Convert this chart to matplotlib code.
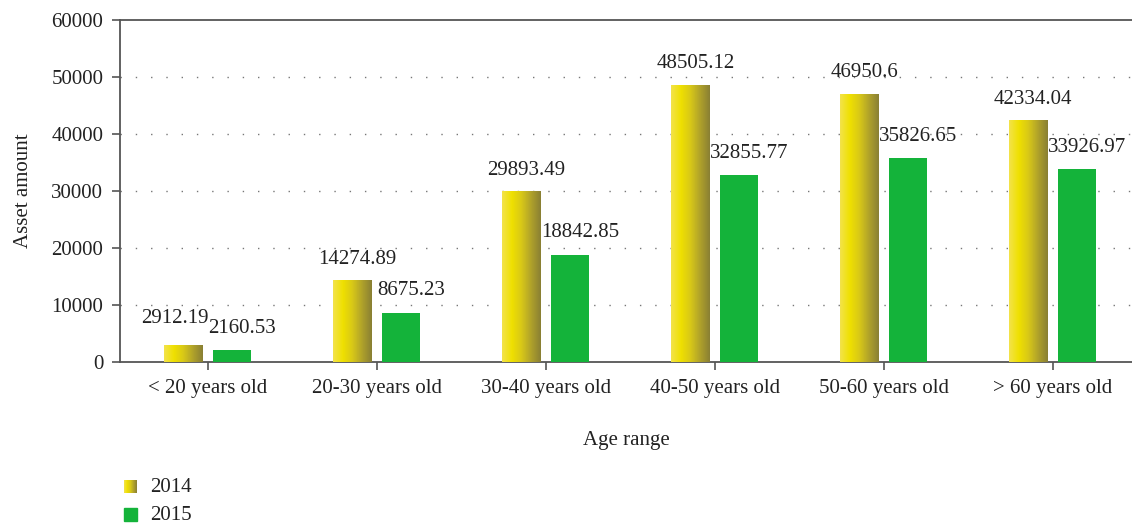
import matplotlib
matplotlib.use("Agg")
import matplotlib.pyplot as plt
import numpy as np
from matplotlib.colors import LinearSegmentedColormap
from matplotlib.patches import Rectangle

categories = ["< 20 years old", "20-30 years old", "30-40 years old",
              "40-50 years old", "50-60 years old", "> 60 years old"]
values_2014 = [2912.19, 14274.89, 29893.49, 48505.12, 46950.6, 42334.04]
values_2015 = [2160.53, 8675.23, 18842.85, 32855.77, 35826.65, 33926.97]
labels_2014 = ["2912.19", "14274.89", "29893.49", "48505.12", "46950.6", "42334.04"]
labels_2015 = ["2160.53", "8675.23", "18842.85", "32855.77", "35826.65", "33926.97"]
yticks = [0, 10000, 20000, 30000, 40000, 50000, 60000]

FONT = ["Liberation Serif", "DejaVu Serif"]
plt.rcParams['font.family'] = FONT
FS = 15

fig = plt.figure(figsize=(11.32, 5.25), dpi=100)
ax = fig.add_axes([120/1132, 1 - 362/525, 1 - 120/1132, (362 - 20)/525])

green = "#14b33a"
ygrad = LinearSegmentedColormap.from_list(
    "yg", ["#f3e34a", "#efe000", "#d8c818", "#b0a22a", "#8a8034"])
grad = np.linspace(0, 1, 64).reshape(1, -1)

x = np.arange(len(categories))
w = 0.225
off = 0.145

for i in range(len(categories)):
    x0 = x[i] - off - w/2
    ax.imshow(grad, cmap=ygrad, extent=[x0, x0 + w, 0, values_2014[i]],
              aspect='auto', zorder=3, interpolation='bilinear')
    dx, dy = (0.03, 3000)
    if i == 0:
        dx, dy = (-0.05, 4000)  # nudge to avoid overlapping neighbour label
    ax.text(x[i] - off + dx, values_2014[i] + dy, labels_2014[i],
            ha='center', va='baseline', fontsize=FS, color='#222222', zorder=5)
ax.bar(x + off, values_2015, width=w, color=green, zorder=3)
for i in range(len(categories)):
    ax.text(x[i] + off + 0.06, values_2015[i] + 3000, labels_2015[i],
            ha='center', va='baseline', fontsize=FS, color='#222222', zorder=5)

ax.set_xlim(-0.52, 5.47)
ax.set_ylim(0, 60000)
ax.set_yticks(yticks)
ax.set_yticklabels([str(v) for v in yticks])
ax.set_xticks(x)
ax.set_xticklabels(categories)
for yv in yticks[1:-1]:
    ax.axhline(yv, color='#777777', linestyle=(0, (1, 10)), linewidth=1.0, zorder=1)

ax.spines['right'].set_visible(False)
for s in ['left', 'bottom', 'top']:
    ax.spines[s].set_color('#555555')
    ax.spines[s].set_linewidth(1.3)
ax.tick_params(axis='both', colors='#555555', labelcolor='#222222',
               labelsize=FS, length=6, width=1.2)
ax.tick_params(axis='y', pad=6)
ax.tick_params(axis='x', pad=6)
ax.set_xlabel("Age range", fontsize=FS, color='#222222', labelpad=24)
ax.set_ylabel("Asset amount", fontsize=FS, color='#222222', labelpad=13)
ax.set_facecolor('none')

# Legend (manual)
lax = fig.add_axes([124/1132, 1 - 493/525, 13/1132, 13/525])
lax.imshow(grad, cmap=ygrad, aspect='auto', interpolation='bilinear')
lax.axis('off')
fig.patches.append(Rectangle((124/1132, 1 - 521/525), 13/1132, 13/525,
                             transform=fig.transFigure, color=green))
fig.text(150/1132, 1 - 487/525, "2014", fontsize=FS, va='center', color='#222222')
fig.text(150/1132, 1 - 515/525, "2015", fontsize=FS, va='center', color='#222222')

fig.savefig("out.png", dpi=100)
